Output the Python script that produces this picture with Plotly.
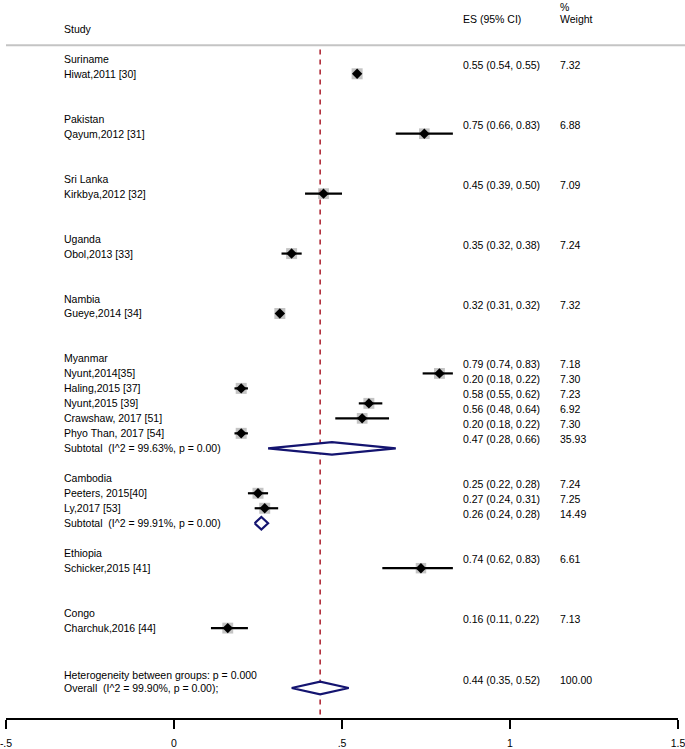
import numpy as np
import plotly.graph_objects as go

# ---- data ----
groups = ["Suriname", "Pakistan", "Sri Lanka", "Uganda", "Nambia",
          "Myanmar", "Cambodia", "Ethiopia", "Congo"]

studies = [
    ["Hiwat,2011 [30]"],
    ["Qayum,2012 [31]"],
    ["Kirkbya,2012 [32]"],
    ["Obol,2013 [33]"],
    ["Gueye,2014 [34]"],
    ["Nyunt,2014[35]", "Haling,2015 [37]", "Nyunt,2015 [39]",
     "Crawshaw, 2017 [51]", "Phyo Than, 2017 [54]"],
    ["Peeters, 2015[40]", "Ly,2017 [53]"],
    ["Schicker,2015 [41]"],
    ["Charchuk,2016 [44]"],
]

es = [[0.545], [0.745], [0.445], [0.35], [0.315],
      [0.79, 0.20, 0.58, 0.56, 0.20],
      [0.25, 0.27],
      [0.735], [0.16]]
lo = [[0.54], [0.66], [0.39], [0.32], [0.31],
      [0.74, 0.18, 0.55, 0.48, 0.18],
      [0.22, 0.24],
      [0.62], [0.11]]
hi = [[0.55], [0.83], [0.50], [0.38], [0.32],
      [0.83, 0.22, 0.62, 0.64, 0.22],
      [0.28, 0.31],
      [0.83], [0.22]]
weights = [[7.32], [6.88], [7.09], [7.24], [7.32],
           [7.18, 7.30, 7.23, 6.92, 7.30],
           [7.24, 7.25],
           [6.61], [7.13]]
es_text = [["0.55 (0.54, 0.55)"], ["0.75 (0.66, 0.83)"], ["0.45 (0.39, 0.50)"],
           ["0.35 (0.32, 0.38)"], ["0.32 (0.31, 0.32)"],
           ["0.79 (0.74, 0.83)", "0.20 (0.18, 0.22)", "0.58 (0.55, 0.62)",
            "0.56 (0.48, 0.64)", "0.20 (0.18, 0.22)"],
           ["0.25 (0.22, 0.28)", "0.27 (0.24, 0.31)"],
           ["0.74 (0.62, 0.83)"], ["0.16 (0.11, 0.22)"]]

# subtotals (only for groups with more than one study)
sub_es = {5: 0.47, 6: 0.26}
sub_lo = {5: 0.28, 6: 0.24}
sub_hi = {5: 0.66, 6: 0.28}
sub_w = {5: "35.93", 6: "14.49"}
sub_text = {5: "0.47 (0.28, 0.66)", 6: "0.26 (0.24, 0.28)"}
sub_label = {5: "Subtotal\u00a0 (I^2 = 99.63%, p = 0.00)",
             6: "Subtotal\u00a0 (I^2 = 99.91%, p = 0.00)"}

overall_es, overall_lo, overall_hi = 0.435, 0.35, 0.52
overall_text = "0.44 (0.35, 0.52)"
overall_w = "100.00"
het_label = "Heterogeneity between groups: p = 0.000"
overall_label = "Overall\u00a0 (I^2 = 99.90%, p = 0.00);"

x_ticks = [-0.5, 0, 0.5, 1, 1.5]
x_ticktext = ["-.5", "0", ".5", "1", "1.5"]

# ---- row layout (Stata metan style) ----
X_LABEL, X_ES, X_W = -0.329, 0.856, 1.147
TXT_SHIFT = -0.6
FONT = "Liberation Sans, Arial, Helvetica, sans-serif"
FS = 10.5

labels = []      # (row, text)
right_txt = []   # (row, es text, weight text)
pts = {"x": [], "y": [], "lo": [], "hi": [], "w": []}
diamonds = []    # (row, es, lo, hi)

row = 0
for g, name in enumerate(groups):
    labels.append((row, name))
    row += 1
    for k, st in enumerate(studies[g]):
        labels.append((row, st))
        pts["x"].append(es[g][k]); pts["y"].append(row)
        pts["lo"].append(lo[g][k]); pts["hi"].append(hi[g][k])
        pts["w"].append(weights[g][k])
        right_txt.append((row, es_text[g][k], f"{weights[g][k]:.2f}"))
        row += 1
    if g in sub_es:
        labels.append((row, sub_label[g]))
        diamonds.append((row, sub_es[g], sub_lo[g], sub_hi[g]))
        right_txt.append((row, sub_text[g], sub_w[g]))
        row += 2
    else:
        row += 2

het_row = row
overall_row = row + 1
labels.append((het_row + 0.15, het_label))
labels.append((overall_row, overall_label))
diamonds.append((overall_row, overall_es, overall_lo, overall_hi))
right_txt.append((overall_row + 0.05, overall_text, overall_w))

fig = go.Figure()

# weight boxes
px_arr = np.array(pts["x"])
w_arr = np.array(pts["w"])
fig.add_trace(go.Scatter(
    x=px_arr, y=pts["y"], mode="markers",
    marker=dict(symbol="square", size=11 * np.sqrt(w_arr / 7.3), color="#ababab",
                line=dict(width=0)),
    hoverinfo="skip", showlegend=False,
))
# point estimates with CI
fig.add_trace(go.Scatter(
    x=px_arr, y=pts["y"], mode="markers",
    marker=dict(symbol="diamond", size=8, color="black"),
    error_x=dict(type="data", symmetric=False,
                 array=np.array(pts["hi"]) - px_arr,
                 arrayminus=px_arr - np.array(pts["lo"]),
                 color="black", thickness=2.2, width=0),
    showlegend=False,
))
# pooled diamonds
H = 0.42
for r, e, l, h in diamonds:
    fig.add_trace(go.Scatter(
        x=[l, e, h, e, l], y=[r, r - H, r, r + H, r],
        mode="lines", fill="toself", fillcolor="white",
        line=dict(color="#141470", width=2.2),
        showlegend=False, hoverinfo="skip",
    ))

# reference line at overall estimate
fig.add_shape(type="line", x0=overall_es, x1=overall_es, y0=-0.62, y1=44.0,
              xref="x", yref="y", line=dict(color="#b02a38", width=1.6, dash="5px,5px"),
              layer="below")
# header separator
fig.add_shape(type="line", x0=0, x1=1.02, y0=-0.9, y1=-0.9, xref="paper", yref="y",
              line=dict(color="#c4c4c4", width=2))


def txt(x, y, s):
    fig.add_annotation(x=x, y=y, text=s, xref="x", yref="y", xanchor="left",
                       yanchor="middle", showarrow=False, borderpad=0,
                       font=dict(family=FONT, size=FS, color="black"))


for r, s in labels:
    txt(X_LABEL, r, s)
for r, s, w in right_txt:
    txt(X_ES, r + TXT_SHIFT, s)
    txt(X_W, r + TXT_SHIFT, w)

txt(X_LABEL, -2.0, "Study")
txt(X_ES, -2.67, "ES (95% CI)")
txt(X_W, -2.67, "Weight")
txt(X_W, -3.45, "%")

fig.update_layout(
    width=685, height=749,
    margin=dict(l=5, r=5, t=0, b=25),
    plot_bgcolor="white", paper_bgcolor="white",
    xaxis=dict(range=[-0.5, 1.5], tickvals=x_ticks, ticktext=x_ticktext,
               showgrid=False, zeroline=False, showline=True, linecolor="black",
               linewidth=1.5, ticks="outside", ticklen=9, tickwidth=1.5,
               tickcolor="black", ticklabelstandoff=6, ticklabeloverflow="allow",
               tickfont=dict(family=FONT, size=FS, color="black")),
    yaxis=dict(range=[44.0, -3.925], visible=False, showgrid=False, zeroline=False),
    showlegend=False,
)

fig.write_html("out.html", config={"displayModeBar": False},
               post_script="document.body.style.margin='0';")
